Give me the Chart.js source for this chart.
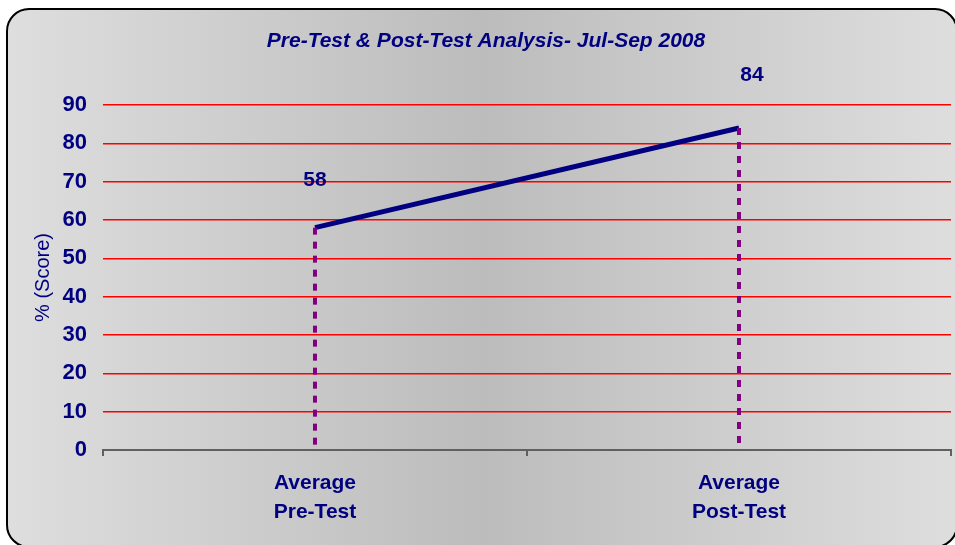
<!DOCTYPE html>
<html>
<head>
<meta charset="utf-8">
<script src="https://cdn.jsdelivr.net/npm/chart.js@4"></script>
<style>
  body { margin: 0; background: #fff; }
  #wrap { width: 955px; height: 545px; }
</style>
</head>
<body>
<div id="wrap"><canvas id="lineChart"></canvas></div>
<script>
// data
const categories = [['Average', 'Pre-Test'], ['Average', 'Post-Test']];
const scores = [58, 84];
const yTicks = [0, 10, 20, 30, 40, 50, 60, 70, 80, 90];

const navy = '#000080';
const font = '"Liberation Sans", Arial, sans-serif';

// frame + gradient background, title, drop lines, value labels
const decor = {
  id: 'decor',
  beforeDraw(chart) {
    const ctx = chart.ctx;
    ctx.save();
    const g = ctx.createLinearGradient(7, 0, 957, 0);
    g.addColorStop(0, '#dedede');
    g.addColorStop(0.5, '#bcbcbc');
    g.addColorStop(1, '#dedede');
    ctx.beginPath();
    ctx.roundRect(7, 9, 950, 538, 22);
    ctx.fillStyle = g;
    ctx.fill();
    ctx.lineWidth = 2;
    ctx.strokeStyle = '#000';
    ctx.stroke();

    ctx.fillStyle = navy;
    ctx.font = 'italic bold 21px ' + font;
    ctx.textAlign = 'center';
    ctx.textBaseline = 'middle';
    ctx.fillText('Pre-Test & Post-Test Analysis- Jul-Sep 2008', 486, 41);
    ctx.restore();
  },
  afterDatasetsDraw(chart) {
    const ctx = chart.ctx;
    const x = chart.scales.x, y = chart.scales.y;
    ctx.save();
    ctx.strokeStyle = '#800080';
    ctx.lineWidth = 4;
    ctx.setLineDash([7, 7]);
    scores.forEach((v, i) => {
      const px = x.getPixelForValue(i);
      ctx.beginPath();
      ctx.moveTo(px, y.getPixelForValue(v));
      ctx.lineTo(px, y.getPixelForValue(0));
      ctx.stroke();
    });
    ctx.setLineDash([]);
    ctx.fillStyle = navy;
    ctx.font = 'bold 21px ' + font;
    ctx.textAlign = 'center';
    ctx.textBaseline = 'middle';
    const offs = [[0, -47], [13, -53]];
    scores.forEach((v, i) => {
      ctx.fillText(String(v), x.getPixelForValue(i) + offs[i][0], y.getPixelForValue(v) + offs[i][1]);
    });
    ctx.restore();
  }
};

new Chart(document.getElementById('lineChart'), {
  type: 'line',
  data: {
    labels: categories,
    datasets: [{
      data: scores,
      borderColor: navy,
      borderWidth: 5,
      pointRadius: 0,
      tension: 0
    }]
  },
  plugins: [decor],
  options: {
    responsive: true,
    maintainAspectRatio: false,
    animation: false,
    layout: { padding: { top: 105, right: 4, left: 0, bottom: 0 } },
    plugins: {
      legend: { display: false },
      tooltip: { enabled: false }
    },
    scales: {
      x: {
        offset: true,
        afterFit: s => { s.height = 95; },
        grid: { drawOnChartArea: false, drawTicks: true, tickLength: 6, color: '#606060', lineWidth: 2, offset: true },
        border: { color: '#606060', width: 2 },
        ticks: { color: navy, font: { family: font, size: 21, weight: 'bold', lineHeight: 1.38 }, padding: 13, maxRotation: 0 }
      },
      y: {
        min: 0,
        max: 90,
        afterFit: s => { s.width = 103; },
        afterBuildTicks: s => { s.ticks = yTicks.map(v => ({ value: v })); },
        grid: {
          drawTicks: false,
          color: c => c.tick.value === 0 ? 'rgba(0,0,0,0)' : '#ff0000',
          lineWidth: 1.5
        },
        border: { display: false },
        title: { display: true, text: '% (Score)', color: navy, font: { family: font, size: 20, lineHeight: 1.2 }, padding: { top: 31, bottom: 0 } },
        ticks: { color: navy, font: { family: font, size: 22, weight: 'bold' }, padding: 16 }
      }
    }
  }
});
</script>
</body>
</html>
